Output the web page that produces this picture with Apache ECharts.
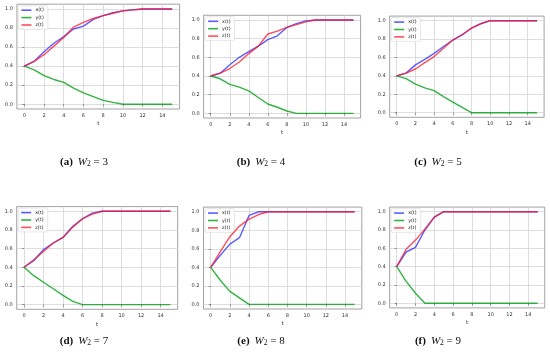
<!DOCTYPE html>
<html><head><meta charset="utf-8">
<script src="https://cdn.jsdelivr.net/npm/echarts@6/dist/echarts.min.js"></script>
<style>html,body{margin:0;padding:0;background:#fff}#c{width:550px;height:361px}</style>
</head><body><div id="c"></div>
<script>
// ---- data ----
var t = [0,1,2,3,4,5,6,7,8,9,10,11,12,13,14,15];
var xTicks = [0,2,4,6,8,10,12,14];
var yTicks = [0,0.2,0.4,0.6,0.8,1.0];
var seriesNames = ['x(t)','y(t)','z(t)'];
var captionLetters = ['(a)','(b)','(c)','(d)','(e)','(f)'];
var w2Values = [3,4,5,7,8,9];

var xA = [0.40,0.45,0.55,0.64,0.71,0.79,0.82,0.89,0.93,0.96,0.98,0.99,1,1,1,1];
var yA = [0.40,0.36,0.30,0.26,0.23,0.17,0.12,0.08,0.04,0.02,0,0,0,0,0,0];
var zA = [0.40,0.45,0.52,0.61,0.70,0.81,0.86,0.90,0.93,0.955,0.98,0.99,1,1,1,1];

var xB = [0.40,0.43,0.52,0.60,0.66,0.72,0.79,0.83,0.92,0.96,0.99,1,1,1,1,1];
var yB = [0.40,0.37,0.31,0.28,0.24,0.17,0.10,0.065,0.025,0,0,0,0,0,0,0];
var zB = [0.40,0.43,0.48,0.55,0.64,0.72,0.85,0.88,0.92,0.95,0.98,1,1,1,1,1];

var xC = [0.40,0.43,0.52,0.58,0.645,0.72,0.79,0.845,0.92,0.97,1,1,1,1,1,1];
var yC = [0.40,0.37,0.31,0.27,0.24,0.175,0.115,0.058,0,0,0,0,0,0,0,0];
var zC = [0.40,0.43,0.475,0.545,0.61,0.70,0.79,0.85,0.92,0.965,1,1,1,1,1,1];

var xD = [0.40,0.47,0.59,0.66,0.72,0.84,0.92,0.98,1,1,1,1,1,1,1,1];
var yD = [0.40,0.31,0.24,0.17,0.10,0.035,0,0,0,0,0,0,0,0,0,0];
var zD = [0.40,0.48,0.57,0.66,0.72,0.83,0.92,0.97,1,1,1,1,1,1,1,1];

var xE = [0.40,0.53,0.65,0.72,0.96,1,1,1,1,1,1,1,1,1,1,1];
var yE = [0.40,0.26,0.14,0.07,0,0,0,0,0,0,0,0,0,0,0,0];
var zE = [0.40,0.57,0.73,0.845,0.92,0.97,1,1,1,1,1,1,1,1,1,1];

var xF = [0.40,0.56,0.61,0.80,0.94,1,1,1,1,1,1,1,1,1,1,1];
var yF = [0.40,0.24,0.11,0,0,0,0,0,0,0,0,0,0,0,0,0];
var zF = [0.40,0.59,0.69,0.81,0.94,1,1,1,1,1,1,1,1,1,1,1];

var panelData = [[xA,yA,zA],[xB,yB,zB],[xC,yC,zC],[xD,yD,zD],[xE,yE,zE],[xF,yF,zF]];

// ---- layout / style ----
var gridRects = [
  {left:16.9, top:4.2, width:162.7, height:104.8},
  {left:203.6, top:15.3, width:157, height:102.7},
  {left:389.7, top:16.1, width:154.4, height:101.2},
  {left:16.7, top:206.6, width:161, height:102.7},
  {left:203.5, top:207.1, width:158.3, height:101.9},
  {left:389.65, top:207.1, width:155.1, height:100.8}
];
var captionPos = [[84,153],[261,153],[438,153],[84,332],[261,332],[438,332]];
var colors = ['rgba(40,40,255,0.75)','rgba(0,160,20,0.8)','rgba(255,20,40,0.75)'];
var tickFont = 'DejaVu Sans';

var option = {animation:false, backgroundColor:'#fff', grid:[], xAxis:[], yAxis:[], series:[], legend:[], title:[]};
for (var i=0;i<6;i++){
  var g = gridRects[i];
  option.grid.push({left:g.left, top:g.top, width:g.width, height:g.height, show:true, borderColor:'#8a8a8a', borderWidth:0.8, backgroundColor:'#fff', containLabel:false});
  option.xAxis.push({type:'value', gridIndex:i, min:-0.75, max:15.75,
    name:'t', nameLocation:'middle', nameGap:12, nameTextStyle:{fontSize:5.5, color:'#333', fontFamily:tickFont},
    axisLine:{show:false},
    axisTick:{show:true, length:2, lineStyle:{color:'#555', width:0.6}, customValues:xTicks},
    axisLabel:{fontSize:5, color:'#333', fontFamily:tickFont, margin:4, customValues:xTicks},
    splitLine:{show:true, lineStyle:{color:'#d4d4d4', width:0.8}}});
  option.yAxis.push({type:'value', gridIndex:i, min:-0.05, max:1.05,
    axisLine:{show:false},
    axisTick:{show:true, length:2, lineStyle:{color:'#555', width:0.6}, customValues:yTicks},
    axisLabel:{fontSize:5, color:'#333', fontFamily:tickFont, margin:4, customValues:yTicks,
      formatter:function(v){return v.toFixed(1);}},
    splitLine:{show:true, lineStyle:{color:'#d4d4d4', width:0.8}}});
  for (var s=0;s<3;s++){
    var vals = panelData[i][s];
    option.series.push({type:'line', name:seriesNames[s], xAxisIndex:i, yAxisIndex:i,
      data:t.map(function(tt,k){return [tt, vals[k]];}),
      showSymbol:false, symbol:'none', lineStyle:{color:colors[s], width:1.4}, itemStyle:{color:colors[s]}, z:3+s});
  }
  option.legend.push({data:seriesNames, orient:'vertical', left:g.left+1.5, top:g.top+1.5,
    icon:'rect', itemWidth:10, itemHeight:1.6, itemGap:2.4, padding:[2,4,2,3],
    borderColor:'#d8d8d8', borderWidth:0.6, borderRadius:1.5, backgroundColor:'rgba(255,255,255,0.85)',
    textStyle:{fontSize:4.8, color:'#222', fontFamily:tickFont, padding:[0,0,0,-1]}, selectedMode:false});
  option.title.push({left:captionPos[i][0], top:captionPos[i][1], textAlign:'center', padding:0,
    text:'{b|'+captionLetters[i]+'} {i|W}{s|2}{n| = '+w2Values[i]+'}',
    textStyle:{fontWeight:'normal', rich:{
      b:{fontFamily:'Liberation Serif', fontWeight:'bold', fontSize:11, color:'#111'},
      i:{fontFamily:'Liberation Serif', fontStyle:'italic', fontWeight:'normal', fontSize:11, color:'#111'},
      s:{fontFamily:'Liberation Serif', fontWeight:'normal', fontSize:7.5, color:'#111', padding:[4,0,0,0]},
      n:{fontFamily:'Liberation Serif', fontWeight:'normal', fontSize:11, color:'#111'}
    }}});
}
var chart = echarts.init(document.getElementById('c'), null, {renderer:'canvas'});
chart.setOption(option);
</script></body></html>
